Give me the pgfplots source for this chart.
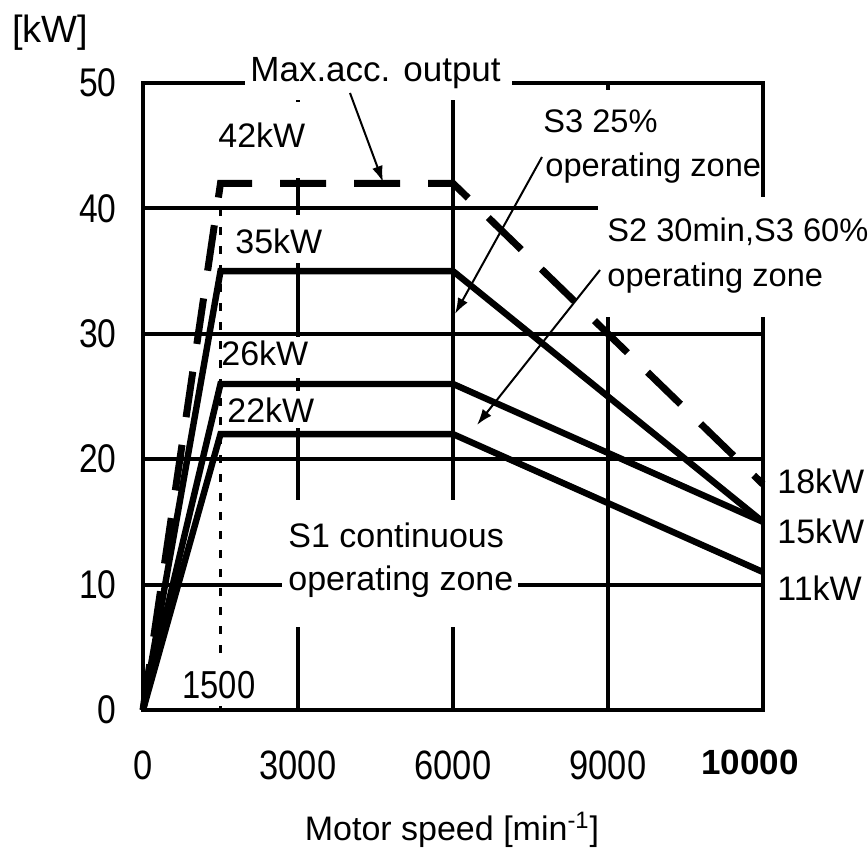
\documentclass[border=0pt]{standalone}
\usepackage{fontspec}
\setmainfont{Liberation Sans}
\newfontfamily\condensed{Liberation Sans}[FakeStretch=0.84]
\usepackage{pgfplots}
\pgfplotsset{compat=1.18}
\usetikzlibrary{arrows.meta}
\newcommand{\fs}{\fontsize{17}{19}\selectfont}
\newcommand{\fss}{\fontsize{16.3}{19}\selectfont}

\begin{document}
\begin{tikzpicture}
\useasboundingbox (-71.5pt,-71.5pt) rectangle (362.5pt,355pt);
\begin{axis}[
  at={(0pt,0pt)}, anchor=south west,
  scale only axis, width=310pt, height=313.5pt,
  xmin=0, xmax=12000, ymin=0, ymax=50,
  % the last axis segment (9000..10000 min^-1) is drawn three times as wide
  x filter/.expression={x>9000 ? 9000+3*(x-9000) : x},
  scaled x ticks=false,
  xtick={0,3000,6000,9000,12000},
  xticklabels={0,3000,6000,9000,{\normalfont\fontsize{17.5}{19}\selectfont\bfseries 10000\kern13pt}},
  ytick={0,10,20,30,40,50},
  grid=major,
  major grid style={black, line width=2pt},
  axis line style={line width=2.4pt},
  major tick length=0pt,
  /pgf/number format/assume math mode=true,
  xticklabel style={font=\condensed\fontsize{20.5}{22}\selectfont, inner sep=0pt, yshift=-20pt},
  yticklabel style={font=\condensed\fontsize{20}{22}\selectfont, inner sep=0pt, xshift=-13pt},
  clip=false,
]
% Max. acceleration output (dashed)
\addplot[line width=3.5pt, dash pattern=on 23pt off 14pt] coordinates {(0,0) (1500,42) (6000,42) (10000,18)};
% S3 25%
\addplot[line width=3.2pt] coordinates {(0,0) (1500,35) (6000,35) (10000,15)};
% S2 30min, S3 60%
\addplot[line width=3.2pt] coordinates {(0,0) (1500,26) (6000,26) (10000,15)};
% S1 continuous
\addplot[line width=3.2pt] coordinates {(0,0) (1500,22) (6000,22) (10000,11)};
% 1500 marker
\addplot[line width=1.6pt, dash pattern=on 4pt off 5.5pt] coordinates {(1500,0) (1500,42)};
\end{axis}

\begin{scope}[shift={(-71.5pt,355pt)}, x=0.5pt, y=-0.5pt]
\fill[white] (245,48) rectangle (512,100);
\fill[white] (208,102) rectangle (310,178);
\fill[white] (228,215) rectangle (325,263);
\fill[white] (223,337) rectangle (312,378);
\fill[white] (223,391) rectangle (312,428);
\fill[white] (178,664) rectangle (260,706);
\fill[white] (540,90) rectangle (758,197);
\fill[white] (598,197) rectangle (868,317);
\fill[white] (282,500) rectangle (518,627);

\node[anchor=base west, inner sep=0pt, font=\fontsize{19}{21}\selectfont] at (12,43) {[kW]};
\node[anchor=base west, inner sep=0pt, font=\fontsize{17.5}{19}\selectfont] at (250,82) {Max.acc. output};
\node[anchor=base west, inner sep=0pt, font=\fs] at (218,148) {42kW};
\node[anchor=base west, inner sep=0pt, font=\fs] at (235,253) {35kW};
\node[anchor=base west, inner sep=0pt, font=\fs] at (221,365) {26kW};
\node[anchor=base west, inner sep=0pt, font=\fs] at (227,422) {22kW};
\node[anchor=base west, inner sep=0pt, font=\condensed\fontsize{19.5}{21}\selectfont] at (182,698) {1500};
\node[anchor=base west, inner sep=0pt, font=\fss] at (543,133) {S3 25\%};
\node[anchor=base west, inner sep=0pt, font=\fss] at (545,177) {operating zone};
\node[anchor=base west, inner sep=0pt, font=\fss] at (607,242) {S2 30min,S3 60\%};
\node[anchor=base west, inner sep=0pt, font=\fss] at (607,287) {operating zone};
\node[anchor=base west, inner sep=0pt, font=\fs] at (288,547) {S1 continuous};
\node[anchor=base west, inner sep=0pt, font=\fs] at (288,590) {operating zone};
\node[anchor=base west, inner sep=0pt, font=\fs] at (777,493) {18kW};
\node[anchor=base west, inner sep=0pt, font=\fs] at (777,543) {15kW};
\node[anchor=base west, inner sep=0pt, font=\fs] at (777,600) {11kW};
\node[anchor=center, inner sep=0pt, font=\fs] at (452,830) {Motor speed [min\textsuperscript{-1}]};

\draw[line width=1pt, -{Latex[length=8pt,width=5.5pt]}] (350,93) -- (383,182);
\draw[line width=1pt, -{Latex[length=8pt,width=5.5pt]}] (542,157) -- (455,314);
\draw[line width=1pt, -{Latex[length=8pt,width=5.5pt]}] (600,270) -- (477,425);
\end{scope}
\end{tikzpicture}
\end{document}
